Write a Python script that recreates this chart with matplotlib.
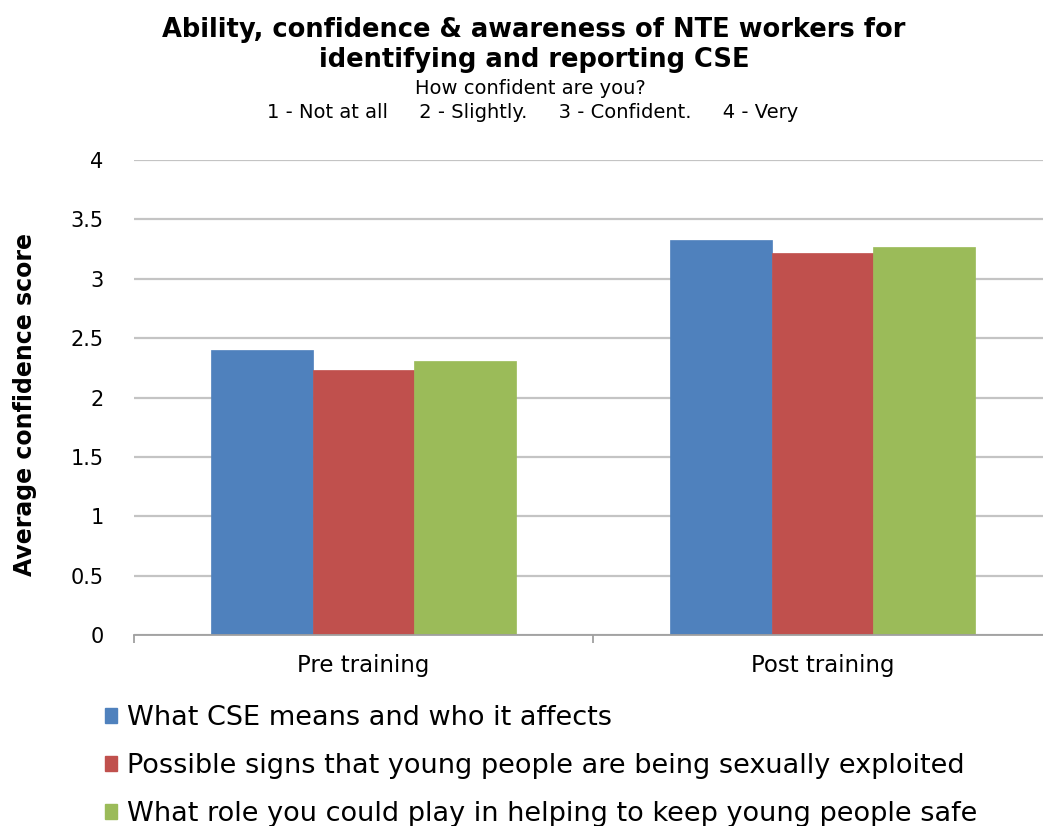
import matplotlib
matplotlib.use("Agg")
import matplotlib.pyplot as plt
import numpy as np
from matplotlib.patches import Patch

categories = ["Pre training", "Post training"]
series_names = [
    "What CSE means and who it affects",
    "Possible signs that young people are being sexually exploited",
    "What role you could play in helping to keep young people safe",
]
cse_means = [2.40, 3.33]
possible_signs = [2.23, 3.22]
role_safe = [2.31, 3.27]
yticks = [0, 0.5, 1, 1.5, 2, 2.5, 3, 3.5, 4]
ytick_labels = ["0", "0.5", "1", "1.5", "2", "2.5", "3", "3.5", "4"]
colors = ["#4F81BD", "#C0504D", "#9BBB59"]

plt.rcParams['font.family'] = ['DejaVu Sans']

fig = plt.figure(figsize=(10.43, 8.26), dpi=100)
ax = fig.add_axes([134/1043, 1-635/826, (1052-134)/1043, (635-160)/826])

x = np.arange(len(categories))
w = 0.222
for i, (vals, c) in enumerate(zip([cse_means, possible_signs, role_safe], colors)):
    ax.bar(x + (i-1)*w, vals, width=w, color=c, edgecolor=c, linewidth=0.5, zorder=3)

ax.set_xlim(-0.5, 1.5)
ax.set_ylim(0, 4)
ax.set_yticks(yticks)
ax.set_yticklabels(ytick_labels, fontsize=15)
ax.yaxis.grid(True, color="#c4c4c4", linewidth=1.6, zorder=0)
ax.set_axisbelow(True)
ax.tick_params(axis='y', length=0, pad=22)
for s in ["left", "right", "top"]:
    ax.spines[s].set_visible(False)
ax.spines["bottom"].set_color("#a0a0a0")
ax.spines["bottom"].set_linewidth(1.3)
ax.spines["bottom"].set_zorder(4)

ax.set_xticks([-0.5, 0.5, 1.5])
ax.set_xticklabels([])
ax.set_xticks(x, minor=True)
ax.set_xticklabels(categories, minor=True, fontsize=16.5)
ax.tick_params(axis='x', which='major', length=6, color="#a0a0a0", width=1.3, direction='out')
ax.tick_params(axis='x', which='minor', length=0, pad=14)

fig.text(25/1043, 1-405/826, "Average confidence score", rotation=90, fontsize=17,
         fontweight='bold', ha='center', va='center')

fig.text(534/1043, 1-30/826, "Ability, confidence & awareness of NTE workers for",
         fontsize=18.5, fontweight='bold', ha='center', va='center')
fig.text(534/1043, 1-60/826, "identifying and reporting CSE",
         fontsize=18.5, fontweight='bold', ha='center', va='center')
fig.text(530/1043, 1-88/826, "How confident are you?", fontsize=14, ha='center', va='center')
fig.text(533/1043, 1-113/826, "1 - Not at all     2 - Slightly.     3 - Confident.     4 - Very",
         fontsize=14, ha='center', va='center')

handles = [Patch(facecolor=c, edgecolor=c) for c in colors]
fig.legend(handles, series_names, loc='upper left', bbox_to_anchor=(105/1043, 1-705/826),
           frameon=False, fontsize=19.5, handlelength=0.45, handleheight=0.45,
           handletextpad=0.35, labelspacing=0.82, borderaxespad=0, borderpad=0)

fig.savefig("out.png", dpi=100)
